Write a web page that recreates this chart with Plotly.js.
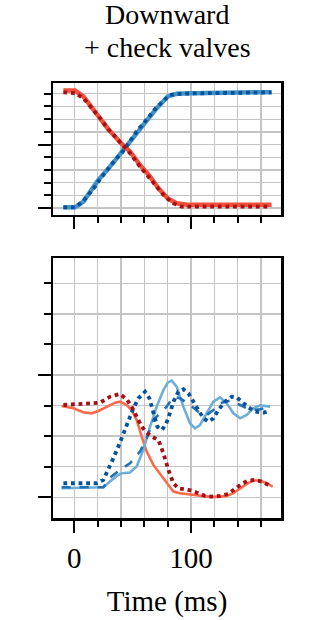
<!DOCTYPE html>
<html>
<head>
<meta charset="utf-8">
<script src="https://cdn.plot.ly/plotly-3.0.1.min.js"></script>
<style>html,body{margin:0;padding:0;background:#fff;}#chart{width:309px;height:620px;}</style>
</head>
<body>
<div id="chart"></div>
<script>
// ---- Top panel data (time in ms, value) ----
const topBlueSolidT = [-9.4, 0.6, 7.7, 20.6, 30.6, 40, 50.6, 60, 70.6, 80, 87.7, 100, 119, 139, 169];
const topBlueSolidY = [0.005, 0.005, 0.05, 0.221, 0.326, 0.432, 0.55, 0.668, 0.787, 0.879, 0.9, 0.905, 0.908, 0.911, 0.913];
const topBlueDotT = [-9.4, 0.6, 7.7, 13.4, 17.7, 22.6, 28.3, 34.9, 40.6, 47.7, 53.4, 60.6, 69.1, 75.7, 82, 90.6, 100, 169];
const topBlueDotY = [0.005, 0.005, 0.055, 0.116, 0.168, 0.234, 0.3, 0.379, 0.432, 0.524, 0.603, 0.682, 0.779, 0.839, 0.892, 0.9, 0.903, 0.911];
const topRedSolidT = [-9.4, 0.6, 7.7, 13.4, 20.6, 29.1, 40, 47.7, 56.3, 64.9, 72, 80, 87.7, 96.3, 169];
const topRedSolidY = [0.926, 0.926, 0.879, 0.813, 0.721, 0.621, 0.511, 0.445, 0.339, 0.247, 0.155, 0.076, 0.037, 0.026, 0.026];
const topRedDotT = [-9.4, 0.6, 7.7, 13.4, 22, 29.1, 35.7, 40.6, 47.7, 56.3, 63.4, 70.6, 77.7, 84.9, 92, 100, 167.7];
const topRedDotY = [0.911, 0.905, 0.866, 0.805, 0.708, 0.621, 0.55, 0.505, 0.432, 0.326, 0.253, 0.168, 0.089, 0.037, 0.011, 0.011, 0.011];

// ---- Bottom panel data ----
const botBlueSolidT = [-10.9, 24.9, 30.6, 36.3, 40.6, 47.7, 53.4, 59.1, 64.9, 70.6, 76.3, 80, 83.4, 87.7, 93.4, 99.1, 103.4, 107.7, 113.4, 119.1, 124.9, 130.6, 136.3, 142, 147.7, 153.4, 159.1, 167.7];
const botBlueSolidY = [0.294, 0.327, 0.512, 0.698, 0.785, 0.807, 1.003, 1.548, 2.311, 2.965, 3.51, 3.749, 3.815, 3.619, 2.965, 2.42, 2.256, 2.365, 2.747, 3.128, 3.27, 3.074, 2.747, 2.583, 2.692, 2.91, 3.008, 2.965];
const botBlueDashT = [-10.9, 24.9, 30.6, 39.1, 47.7, 56.3, 62, 67.7, 73.4, 79.1, 84.9, 90.6, 99.1, 107.7, 113.4, 119.1, 124.9, 133.4, 142, 150.6, 159.1, 167.7];
const botBlueDashY = [0.327, 0.327, 0.643, 0.894, 1.112, 1.493, 1.929, 2.529, 2.747, 2.965, 3.291, 3.237, 3.019, 2.747, 2.692, 2.856, 3.074, 3.161, 3.019, 2.856, 2.877, 2.965];
const botBlueDotT = [-9.4, 19.1, 24.9, 29.1, 33.4, 37.7, 42, 46.3, 50.6, 54.9, 60.6, 64.3, 67.7, 71.1, 74.9, 78.3, 81.4, 84.9, 89.1, 93.4, 97.7, 102, 106.3, 110.6, 114.9, 119.1, 123.4, 129.1, 134.9, 139.1, 143.4, 149.1, 154.9, 162, 167.7];
const botBlueDotY = [0.458, 0.458, 0.567, 0.894, 1.275, 1.657, 2.093, 2.529, 2.91, 3.237, 3.455, 3.237, 2.747, 2.311, 2.202, 2.365, 2.692, 3.128, 3.455, 3.531, 3.401, 3.128, 2.801, 2.583, 2.474, 2.583, 2.856, 3.128, 3.291, 3.27, 3.128, 2.943, 2.801, 2.768, 2.823];
const botRedSolidT = [-10.9, -0.9, 7.7, 14.9, 20.6, 27.7, 34.9, 39.1, 44.9, 49.1, 53.4, 57.7, 62, 67.7, 73.4, 79.1, 84.9, 90.6, 99.1, 107.7, 116.3, 123.4, 130.6, 136.3, 142, 147.7, 153.4, 159.1, 164.9, 170];
const botRedSolidY = [2.986, 2.91, 2.779, 2.747, 2.823, 2.965, 3.095, 3.128, 3.019, 2.856, 2.529, 1.984, 1.493, 1.057, 0.763, 0.458, 0.185, 0.131, 0.098, 0.054, 0.011, 0.011, 0.044, 0.131, 0.272, 0.436, 0.545, 0.545, 0.458, 0.349];
const botRedDotT = [-9.4, 2, 13.4, 22, 30.6, 39.1, 44.9, 49.1, 53.4, 57.7, 62, 66.3, 72, 76.3, 80.6, 84.9, 89.1, 94.9, 100.6, 106.3, 112, 117.7, 124.9, 132, 137.7, 143.4, 149.1, 154.9, 160.6, 166.3];
const botRedDotY = [3.019, 3.052, 3.074, 3.095, 3.292, 3.379, 3.204, 2.965, 2.638, 2.311, 2.114, 1.984, 1.875, 1.439, 0.894, 0.458, 0.294, 0.24, 0.218, 0.131, 0.044, 0.022, 0.044, 0.109, 0.262, 0.436, 0.545, 0.567, 0.512, 0.403];

const xTickVals = [0, 100];
const xTickText = ['0', '100'];
const titleLines = ['Downward', '+ check valves'];
const xTitle = 'Time (ms)';

const serif = 'Liberation Serif, Times New Roman, serif';
const gridCol = '#c4c4c4';

function tr(x, y, xa, ya, color, width, dash) {
  return {x: x, y: y, xaxis: xa, yaxis: ya, type: 'scatter', mode: 'lines',
          line: {color: color, width: width, dash: dash}, hoverinfo: 'skip', showlegend: false};
}

const data = [
  tr(topBlueSolidT, topBlueSolidY, 'x', 'y', '#4292c6', 4.5, 'solid'),
  tr(topRedSolidT, topRedSolidY, 'x', 'y', '#f0503a', 4.5, 'solid'),
  tr(topBlueDotT, topBlueDotY, 'x', 'y', '#08519c', 3.8, 'dot'),
  tr(topRedDotT, topRedDotY, 'x', 'y', '#a50f15', 3.8, 'dot'),
  tr(botRedSolidT, botRedSolidY, 'x2', 'y2', '#fb6a4a', 2.6, 'solid'),
  tr(botBlueSolidT, botBlueSolidY, 'x2', 'y2', '#6baed6', 2.6, 'solid'),
  tr(botBlueDashT, botBlueDashY, 'x2', 'y2', '#2171b5', 2.6, 'dash'),
  tr(botBlueDotT, botBlueDotY, 'x2', 'y2', '#08519c', 3.8, 'dot'),
  tr(botRedDotT, botRedDotY, 'x2', 'y2', '#a50f15', 3.8, 'dot')
];

function xaxisCfg(anchor, showLabels, withTitle) {
  const a = {
    anchor: anchor, range: [-18.3, 177.1], tickmode: 'array', tickvals: xTickVals, ticktext: xTickText,
    showticklabels: showLabels, ticks: 'outside', ticklen: 12, tickwidth: 2, tickcolor: '#000',
    showline: true, linewidth: 2.5, linecolor: '#000', mirror: true,
    showgrid: true, gridcolor: gridCol, gridwidth: 1.3, zeroline: false,
    tickfont: {family: serif, size: 29, color: '#000'},
    ticklabelstandoff: 1,
    minor: {dtick: 20, tick0: 0, ticks: 'outside', ticklen: 6, tickwidth: 2, tickcolor: '#000',
            showgrid: true, gridcolor: gridCol, gridwidth: 1.3}
  };
  if (withTitle) a.title = {text: xTitle, font: {family: serif, size: 29, color: '#000'}, standoff: 18};
  return a;
}
function yaxisCfg(anchor, domain, range, dtick, mdtick) {
  return {
    anchor: anchor, domain: domain, range: range, dtick: dtick, tick0: 0,
    showticklabels: false, ticks: 'outside', ticklen: 13, tickwidth: 2, tickcolor: '#000',
    showline: true, linewidth: 2.5, linecolor: '#000', mirror: true,
    showgrid: true, gridcolor: gridCol, gridwidth: 1.3, zeroline: false,
    minor: {dtick: mdtick, tick0: 0, ticks: 'outside', ticklen: 7, tickwidth: 2, tickcolor: '#000',
            showgrid: true, gridcolor: gridCol, gridwidth: 1.3}
  };
}

const layout = {
  width: 309, height: 620,
  margin: {l: 53, r: 28, t: 83, b: 102, pad: 0},
  paper_bgcolor: '#fff', plot_bgcolor: '#fff',
  showlegend: false,
  xaxis: xaxisCfg('y', false, false),
  yaxis: yaxisCfg('x', [0.6966, 1], [-0.055, 0.985], 0.5, 0.1),
  xaxis2: xaxisCfg('y2', true, true),
  yaxis2: yaxisCfg('x2', [0, 0.5977], [-0.68, 7.83], 4, 1),
  annotations: [
    {text: titleLines[0], xref: 'paper', yref: 'paper', x: 0.5, y: 1, yshift: 68.5, xanchor: 'center', yanchor: 'middle',
     showarrow: false, borderpad: 0, font: {family: serif, size: 28, color: '#000'}},
    {text: titleLines[1], xref: 'paper', yref: 'paper', x: 0.5, y: 1, yshift: 36, xanchor: 'center', yanchor: 'middle',
     showarrow: false, borderpad: 0, font: {family: serif, size: 28, color: '#000'}}
  ]
};

Plotly.newPlot('chart', data, layout, {staticPlot: true, displayModeBar: false});
</script>
</body>
</html>
